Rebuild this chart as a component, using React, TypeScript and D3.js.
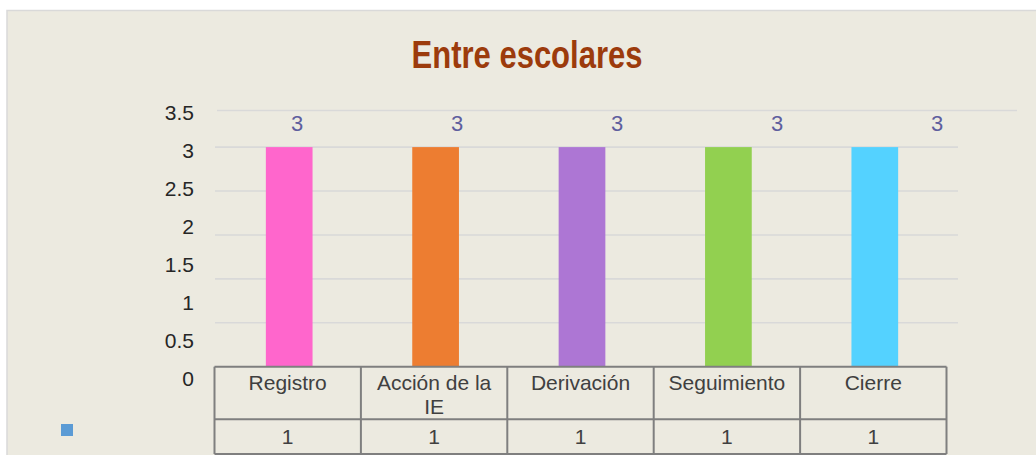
import React from "react";
import * as d3 from "d3";

const title = "Entre escolares";
const categories = ["Registro", "Acción de la IE", "Derivación", "Seguimiento", "Cierre"];
const categoryLines = [["Registro"], ["Acción de la", "IE"], ["Derivación"], ["Seguimiento"], ["Cierre"]];
const values = [3, 3, 3, 3, 3];
const tableValues = [1, 1, 1, 1, 1];
const barColors = ["#FF66CC", "#ED7D31", "#AD76D4", "#92D050", "#54D2FF"];
const yTicks = [0, 0.5, 1, 1.5, 2, 2.5, 3, 3.5];
const gridValues = [0.6, 1.2, 1.8, 2.4, 3.0];
const yMax = 3.5;

export default function App() {
  const W = 1036, H = 455;
  const plotLeft = 214.5, plotRight = 946.5;
  const tableTop = 366.7, rowMid = 419.3, tableBottom = 454;

  const x = d3.scaleBand<string>().domain(categories).range([plotLeft, plotRight]).padding(0);
  const xLabel = d3.scaleBand<string>().domain(categories).range([217, 1017]).padding(0);
  const y = d3.scaleLinear().domain([0, yMax]).range([tableTop, 110.5]);
  const yLab = d3.scaleLinear().domain([0, yMax]).range([378, 112]);
  const barW = 46.7;
  const font = "'Liberation Sans', Arial, sans-serif";

  return (
    <svg width={W} height={H} style={{ position: "absolute", left: 0, top: 0 }} fontFamily={font}>
      <rect x={0} y={0} width={W} height={H} fill="#ffffff" />
      <rect x={7} y={10.5} width={W + 10} height={H + 10} fill="#ECEAE0" stroke="#D9D9D9" strokeWidth={1.5} />
      <text
        x={527}
        y={67.5}
        textAnchor="middle"
        fill="#9C3B0C"
        fontWeight="bold"
        fontSize={38}
        fontFamily="'Liberation Sans Narrow', 'Arial Narrow', 'Liberation Sans', Arial, sans-serif"
        textLength={231}
        lengthAdjust="spacingAndGlyphs"
      >
        {title}
      </text>

      {/* gridlines */}
      {gridValues.map((g) => (
        <line key={g} x1={215} x2={958} y1={y(g)} y2={y(g)} stroke="#D9D9D9" strokeWidth={1.6} />
      ))}
      <line x1={217} x2={1017} y1={y(yMax)} y2={y(yMax)} stroke="#D9D9D9" strokeWidth={1.6} />

      {/* y axis labels */}
      {yTicks.map((t) => (
        <text key={t} x={194} y={yLab(t)} dy="0.36em" textAnchor="end" fontSize={21} fill="#262626">
          {String(t)}
        </text>
      ))}

      {/* bars */}
      {categories.map((c, i) => {
        const cx = (x(c) as number) + x.bandwidth() / 2 + 1.5;
        return (
          <rect key={c} x={cx - barW / 2} y={y(values[i])} width={barW} height={tableTop - y(values[i])} fill={barColors[i]} />
        );
      })}

      {/* data labels */}
      {categories.map((c, i) => (
        <text key={c} x={(xLabel(c) as number) + xLabel.bandwidth() / 2} y={131} textAnchor="middle" fontSize={22} fill="#5E5E9E">
          {String(values[i])}
        </text>
      ))}

      {/* data table */}
      <g stroke="#7F7F7F" strokeWidth={2} fill="none">
        <line x1={plotLeft} x2={plotRight} y1={tableTop} y2={tableTop} />
        <line x1={plotLeft} x2={plotRight} y1={rowMid} y2={rowMid} />
        <line x1={plotLeft} x2={plotRight} y1={tableBottom} y2={tableBottom} />
        {categories.map((c) => (
          <line key={c} x1={x(c) as number} x2={x(c) as number} y1={tableTop} y2={tableBottom} />
        ))}
        <line x1={plotRight} x2={plotRight} y1={tableTop} y2={tableBottom} />
      </g>
      {categories.map((c, i) => {
        const cx = (x(c) as number) + x.bandwidth() / 2;
        return (
          <g key={c}>
            <text x={cx} y={390} textAnchor="middle" fontSize={21} fill="#404040">
              {categoryLines[i].map((ln, j) => (
                <tspan key={j} x={cx} dy={j === 0 ? 0 : 23.5}>
                  {ln}
                </tspan>
              ))}
            </text>
            <text x={cx} y={444.3} textAnchor="middle" fontSize={21} fill="#404040">
              {String(tableValues[i])}
            </text>
          </g>
        );
      })}
      <rect x={61} y={424} width={12} height={12} fill="#5B9BD5" />
    </svg>
  );
}
